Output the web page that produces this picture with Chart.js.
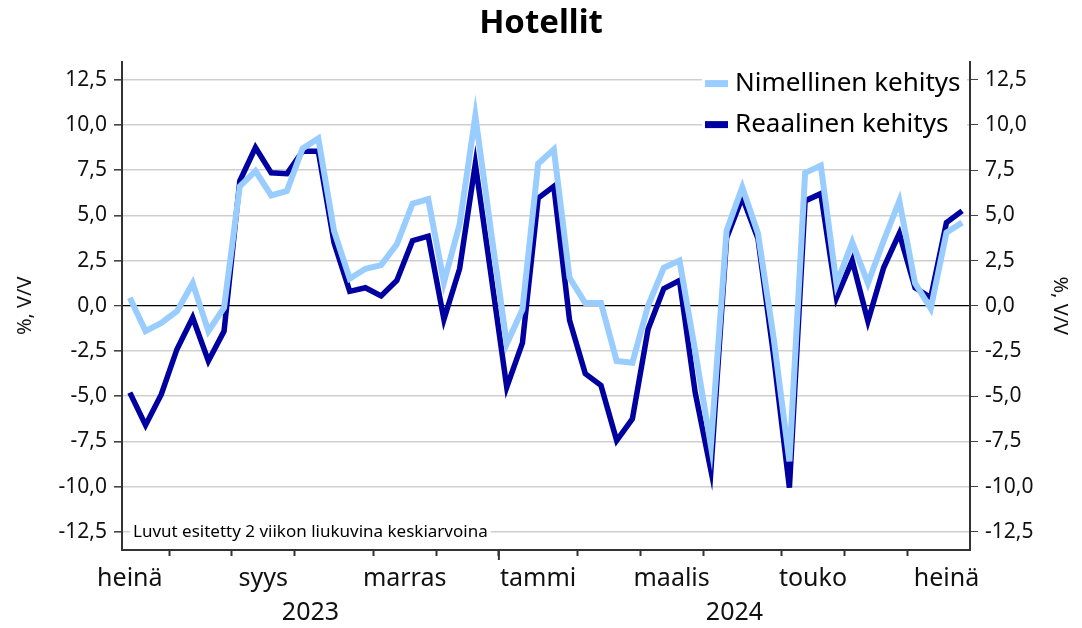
<!DOCTYPE html>
<html>
<head>
<meta charset="utf-8">
<script src="https://cdn.jsdelivr.net/npm/chart.js@4.4.1/dist/chart.umd.min.js"></script>
<style>
  html, body { margin: 0; padding: 0; background: #fff; }
  canvas { display: block; }
</style>
</head>
<body>
<canvas id="chart" width="1082" height="628"></canvas>
<script>
// weekly values, 2 week moving average, jul 2023 - jul 2024
const nominal = [
  0.45, -1.4, -0.95, -0.3, 1.25, -1.4, -0.1, 6.6, 7.45, 6.1,
  6.35, 8.7, 9.25, 4.15, 1.5, 2.05, 2.25, 3.4, 5.65, 5.9,
  1.3, 4.5, 10.5, 4.1, -2.1, -0.2, 7.85, 8.65, 1.55, 0.15,
  0.15, -3.05, -3.15, 0.0, 2.1, 2.5, -2.5, -7.75, 4.15, 6.55,
  4.0, -1.8, -8.6, 7.35, 7.75, 1.2, 3.5, 1.25, 3.6, 5.8,
  1.25, -0.15, 4.05, 4.6
];
const real = [
  -4.8, -6.6, -4.9, -2.4, -0.65, -3.05, -1.4, 6.9, 8.75, 7.35,
  7.3, 8.55, 8.55, 3.5, 0.8, 1.0, 0.55, 1.4, 3.6, 3.85,
  -0.75, 2.05, 7.85, 1.7, -4.5, -2.05, 5.95, 6.6, -0.8, -3.75,
  -4.4, -7.45, -6.25, -1.3, 0.95, 1.4, -4.8, -9.1, 3.75, 6.0,
  3.7, -2.8, -10.05, 5.8, 6.2, 0.45, 2.5, -0.85, 2.1, 4.0,
  1.0, 0.45, 4.6, 5.25
];

const seriesNames = ['Nimellinen kehitys', 'Reaalinen kehitys'];
const seriesColors = ['#99ccff', '#0000a0'];

const monthBoundaries = [2.5, 6.5, 10.5, 15.5, 19.5, 23.5, 28.5, 32.5, 36.5, 41.5, 45.5, 49.5];
const monthLabels = ['heinä', 'syys', 'marras', 'tammi', 'maalis', 'touko', 'heinä'];
const monthLabelPos = [0, 8.5, 17.5, 26, 34.5, 43.5, 52];
const yearLabels = ['2023', '2024'];
const yearLabelPos = [11.5, 38.5];
const yearBoundary = 23.5;
const yTicks = [-12.5, -10, -7.5, -5, -2.5, 0, 2.5, 5, 7.5, 10, 12.5];

const FONT = "'Noto Sans', sans-serif";
const xMin = -0.5, xMax = nominal.length - 0.5;

const fmt = v => v.toFixed(1).replace('.', ',');

const overlayPlugin = {
  id: 'overlay',
  afterDraw(chart) {
    const { ctx, chartArea } = chart;
    const xs = chart.scales.x;
    ctx.save();

    // longer tick at year change
    const yx = xs.getPixelForValue(yearBoundary);
    ctx.strokeStyle = '#333';
    ctx.lineWidth = 2;
    ctx.beginPath();
    ctx.moveTo(yx, chartArea.bottom);
    ctx.lineTo(yx, chartArea.bottom + 10);
    ctx.stroke();

    // legend box
    const lx = chartArea.right - 268;
    ctx.fillStyle = '#fff';
    ctx.fillRect(lx, chartArea.top + 2, 265, 82);
    ctx.font = '26px ' + FONT;
    ctx.textBaseline = 'middle';
    seriesNames.forEach((name, i) => {
      const ly = chartArea.top + 22 + i * 41;
      ctx.strokeStyle = seriesColors[i];
      ctx.lineWidth = 7;
      ctx.beginPath();
      ctx.moveTo(lx + 3, ly);
      ctx.lineTo(lx + 26, ly);
      ctx.stroke();
      ctx.fillStyle = '#000';
      ctx.fillText(name, lx + 33, ly);
    });

    // footnote
    const note = 'Luvut esitetty 2 viikon liukuvina keskiarvoina';
    ctx.font = '17px ' + FONT;
    const w = ctx.measureText(note).width;
    const ny = chart.scales.y.getPixelForValue(-12.5);
    ctx.fillStyle = '#fff';
    ctx.fillRect(chartArea.left + 8, ny - 11, w + 6, 22);
    ctx.fillStyle = '#000';
    ctx.fillText(note, chartArea.left + 11, ny);
    ctx.restore();
  }
};

const yAxisBase = {
  type: 'linear',
  min: -13.5,
  max: 13.5,
  afterBuildTicks: s => { s.ticks = yTicks.map(v => ({ value: v })); },
  ticks: {
    callback: v => fmt(v),
    font: { family: FONT, size: 21 },
    color: '#111',
    padding: 7
  },
  border: { display: true, color: '#333', width: 2 }
};

new Chart(document.getElementById('chart'), {
  type: 'line',
  data: {
    datasets: [
      {
        label: seriesNames[0],
        data: nominal.map((v, i) => ({ x: i, y: v })),
        borderColor: seriesColors[0],
        borderWidth: 6,
        pointRadius: 0,
        tension: 0,
        yAxisID: 'y'
      },
      {
        label: seriesNames[1],
        data: real.map((v, i) => ({ x: i, y: v })),
        borderColor: seriesColors[1],
        borderWidth: 5.5,
        pointRadius: 0,
        tension: 0,
        yAxisID: 'y'
      }
    ]
  },
  options: {
    responsive: false,
    animation: false,
    devicePixelRatio: 1,
    layout: { padding: { left: 0, right: 0, top: 0, bottom: 0 } },
    plugins: {
      legend: { display: false },
      tooltip: { enabled: false },
      title: {
        display: true,
        text: 'Hotellit',
        color: '#000',
        font: { family: FONT, size: 33, weight: 'bold' },
        padding: { top: 4, bottom: 18 }
      }
    },
    scales: {
      x: {
        type: 'linear',
        position: 'bottom',
        weight: 0,
        min: xMin,
        max: xMax,
        afterBuildTicks: s => {
          s.ticks = monthBoundaries.concat(monthLabelPos)
            .sort((a, b) => a - b)
            .map(v => ({ value: v }));
        },
        afterFit: s => { s.height = 43; },
        ticks: {
          autoSkip: false,
          maxRotation: 0,
          padding: 8,
          font: { family: FONT, size: 25 },
          color: '#111',
          callback: v => {
            const k = monthLabelPos.indexOf(v);
            return k >= 0 ? monthLabels[k] : '';
          }
        },
        grid: {
          drawOnChartArea: false,
          tickLength: 6,
          tickWidth: 2,
          tickColor: c => (c.tick && monthBoundaries.includes(c.tick.value)) ? '#333' : 'rgba(0,0,0,0)'
        },
        border: { display: true, color: '#333', width: 2 }
      },
      xYear: {
        type: 'linear',
        position: 'bottom',
        weight: 1,
        min: xMin,
        max: xMax,
        afterBuildTicks: s => { s.ticks = yearLabelPos.map(v => ({ value: v })); },
        afterFit: s => { s.height = 35; },
        ticks: {
          autoSkip: false,
          maxRotation: 0,
          padding: 5,
          font: { family: FONT, size: 25 },
          color: '#111',
          callback: v => yearLabels[yearLabelPos.indexOf(v)]
        },
        grid: { display: false, drawTicks: false },
        border: { display: false }
      },
      y: Object.assign({}, yAxisBase, {
        position: 'left',
        afterFit: s => { s.width = 122; },
        title: {
          display: true,
          text: '%, V/V',
          color: '#111',
          font: { family: FONT, size: 20 },
          padding: { top: 13, bottom: 0 }
        },
        grid: {
          drawOnChartArea: true,
          tickLength: 8,
          tickColor: '#444',
          color: c => (c.tick && c.tick.value === 0) ? '#000' : '#cfcfcf',
          lineWidth: c => (c.tick && c.tick.value === 0) ? 1.3 : 1.6
        }
      }),
      y2: Object.assign({}, yAxisBase, {
        position: 'right',
        afterFit: s => { s.width = 112; },
        title: {
          display: true,
          text: '%, V/V',
          color: '#111',
          font: { family: FONT, size: 20 },
          padding: { top: 10, bottom: 0 }
        },
        grid: {
          drawOnChartArea: false,
          tickLength: 8,
          tickColor: '#444'
        }
      })
    }
  },
  plugins: [overlayPlugin]
});
</script>
</body>
</html>
